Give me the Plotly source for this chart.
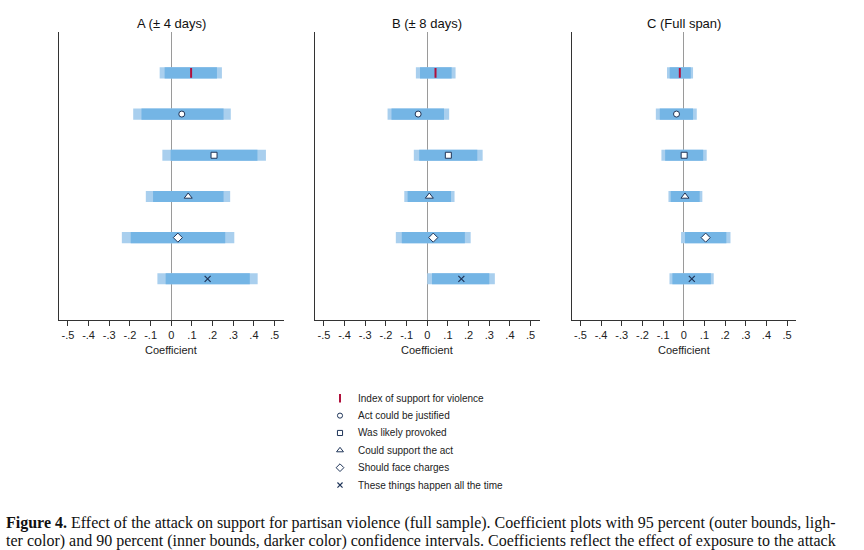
import plotly.graph_objects as go

# ---------------- data ----------------
categories = ["Index of support for violence", "Act could be justified", "Was likely provoked",
              "Could support the act", "Should face charges", "These things happen all the time"]
panel_titles = ["A (± 4 days)", "B (± 8 days)", "C (Full span)"]

coef_a = [0.096, 0.051, 0.207, 0.082, 0.032, 0.176]
lo95_a = [-0.056, -0.184, -0.043, -0.123, -0.239, -0.067]
lo90_a = [-0.032, -0.144, -0.003, -0.088, -0.196, -0.027]
hi90_a = [0.221, 0.253, 0.417, 0.253, 0.261, 0.380]
hi95_a = [0.245, 0.288, 0.458, 0.285, 0.305, 0.418]

coef_b = [0.040, -0.044, 0.102, 0.010, 0.029, 0.165]
lo95_b = [-0.055, -0.192, -0.065, -0.111, -0.152, 0.000]
lo90_b = [-0.035, -0.173, -0.039, -0.095, -0.123, 0.023]
hi90_b = [0.118, 0.081, 0.242, 0.115, 0.182, 0.300]
hi95_b = [0.137, 0.106, 0.268, 0.132, 0.210, 0.327]

coef_c = [-0.019, -0.035, 0.002, 0.006, 0.106, 0.039]
lo95_c = [-0.081, -0.135, -0.108, -0.074, -0.013, -0.069]
lo90_c = [-0.068, -0.116, -0.090, -0.063, 0.006, -0.055]
hi90_c = [0.034, 0.045, 0.094, 0.077, 0.206, 0.131]
hi95_c = [0.045, 0.063, 0.111, 0.090, 0.226, 0.145]

tick_vals = [-0.5, -0.4, -0.3, -0.2, -0.1, 0, 0.1, 0.2, 0.3, 0.4, 0.5]
tick_text = ["-.5", "-.4", "-.3", "-.2", "-.1", "0", ".1", ".2", ".3", ".4", ".5"]

caption_1 = ("<b>Figure 4.</b> Effect of the attack on support for partisan violence (full sample). "
             "Coefficient plots with 95 percent (outer bounds, ligh-")
caption_2 = ("ter color) and 90 percent (inner bounds, darker color) confidence intervals. "
             "Coefficients reflect the effect of exposure to the attack")

# ---------------- styles ----------------
W, H = 864, 550
LIGHT = "#a9cfee"
DARK = "#74b5e5"
NAVY = "#1f3559"
RED = "#b0103c"
SANS = "Liberation Sans, Arial, sans-serif"
SERIF = "Liberation Serif, Times New Roman, serif"

symbols = ["line-ns", "circle", "square", "triangle-up", "diamond", "x-thin"]
sizes = [7, 6, 6, 7, 7, 6]

panels = [
    (coef_a, lo95_a, lo90_a, hi90_a, hi95_a),
    (coef_b, lo95_b, lo90_b, hi90_b, hi95_b),
    (coef_c, lo95_c, lo90_c, hi90_c, hi95_c),
]
x_domains_px = [(59, 283.5), (315, 539.5), (571.5, 796)]
y_dom = [1 - 320 / H, 1 - 31.7 / H]
rows = list(range(1, len(categories) + 1))

fig = go.Figure()


def marker_style(i, size_scale=1.0):
    s = sizes[i] * size_scale
    if symbols[i] == "line-ns":
        return dict(symbol="line-ns", size=s, line=dict(color=RED, width=2))
    if symbols[i] == "x-thin":
        return dict(symbol="x-thin", size=s, line=dict(color=NAVY, width=1.2))
    return dict(symbol=symbols[i], size=s, color="white", line=dict(color=NAVY, width=1))


for p, (coef, lo95, lo90, hi90, hi95) in enumerate(panels):
    xa = "x" if p == 0 else f"x{p+1}"
    ya = "y" if p == 0 else f"y{p+1}"
    fig.add_trace(go.Bar(orientation="h", y=rows, x=[h - l for l, h in zip(lo95, hi95)], base=lo95,
                         width=0.27, marker=dict(color=LIGHT, line=dict(width=0)),
                         xaxis=xa, yaxis=ya, showlegend=False, hoverinfo="skip"))
    fig.add_trace(go.Bar(orientation="h", y=rows, x=[h - l for l, h in zip(lo90, hi90)], base=lo90,
                         width=0.27, marker=dict(color=DARK, line=dict(width=0)),
                         xaxis=xa, yaxis=ya, showlegend=False, hoverinfo="skip"))
    for i in range(len(categories)):
        fig.add_trace(go.Scatter(x=[coef[i]], y=[rows[i]], mode="markers", marker=marker_style(i),
                                 xaxis=xa, yaxis=ya, showlegend=False, cliponaxis=False))

    d0, d1 = x_domains_px[p]
    fig.layout[f"xaxis{'' if p == 0 else p+1}"] = dict(
        domain=[d0 / W, d1 / W], range=[-0.543, 0.543], anchor=ya,
        showline=True, linecolor="#333", linewidth=1, ticks="outside", ticklen=5,
        tickcolor="#333", tickvals=tick_vals, ticktext=tick_text,
        tickfont=dict(family=SANS, size=11, color="#222"),
        showgrid=False, zeroline=True, zerolinecolor="#9a9a9a", zerolinewidth=1, fixedrange=True)
    fig.layout[f"yaxis{'' if p == 0 else p+1}"] = dict(
        domain=y_dom, range=[7, 0], anchor=xa, showline=True, linecolor="#333", linewidth=1,
        showticklabels=False, ticks="", showgrid=False, zeroline=False, fixedrange=True)
    cx = (d0 + d1) / 2 / W
    fig.add_annotation(x=cx, y=1 - 23 / H, xref="paper", yref="paper", text=panel_titles[p],
                       showarrow=False, font=dict(family=SANS, size=13, color="#111"),
                       xanchor="center", yanchor="middle")
    fig.add_annotation(x=cx, y=1 - 350 / H, xref="paper", yref="paper", text="Coefficient",
                       showarrow=False, font=dict(family=SANS, size=11, color="#222"),
                       xanchor="center", yanchor="middle")

# ---------------- legend (hidden axis) ----------------
for i, cat in enumerate(categories):
    fig.add_trace(go.Scatter(x=[1], y=[rows[i]], mode="markers", marker=marker_style(i, 0.85),
                             xaxis="x4", yaxis="y4", showlegend=False, cliponaxis=False))
    fig.add_annotation(x=2.6, y=rows[i], xref="x4", yref="y4", text=cat, showarrow=False,
                       xanchor="left", yanchor="middle",
                       font=dict(family=SANS, size=10, color="#222"))
fig.layout["xaxis4"] = dict(domain=[330 / W, 530 / W], range=[0, 20], visible=False, anchor="y4",
                            fixedrange=True)
fig.layout["yaxis4"] = dict(domain=[1 - 493.7 / H, 1 - 389.6 / H], range=[6.5, 0.5], visible=False,
                            anchor="x4", fixedrange=True)

# ---------------- caption ----------------
cap_font = dict(family=SERIF, size=16, color="#111")
for line, yc in [(caption_1, 523), (caption_2, 541)]:
    fig.add_annotation(x=4 / W, y=1 - yc / H, xref="paper", yref="paper", text=line,
                       showarrow=False, xanchor="left", yanchor="middle", font=cap_font)

fig.update_layout(width=W, height=H, margin=dict(l=0, r=0, t=0, b=0), barmode="overlay",
                  plot_bgcolor="white", paper_bgcolor="white", showlegend=False)

fig.write_html("out.html", config={"displayModeBar": False},
               post_script="document.body.style.margin='0px';")
